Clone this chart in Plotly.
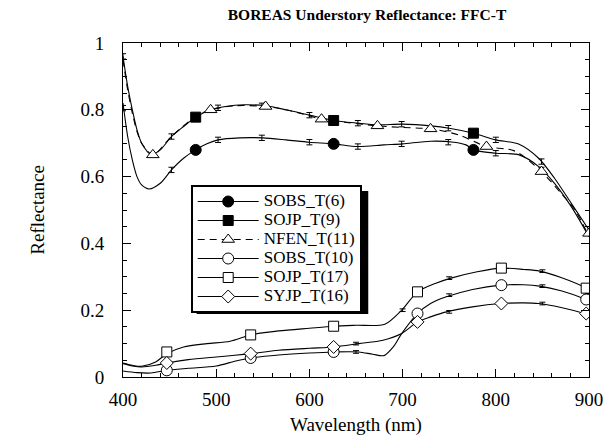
import plotly.graph_objects as go

FONT = "Liberation Serif, Times New Roman, serif"

# ---------------- data ----------------
wl_sobs6 = [400, 405, 410, 415, 420, 428, 440, 452, 465, 478, 490, 502, 525, 550, 575, 600, 626, 652, 680, 700, 730, 755, 768, 776, 800, 825, 846, 863, 881, 900]
r_sobs6 = [0.82, 0.72, 0.65, 0.60, 0.575, 0.563, 0.58, 0.62, 0.655, 0.68, 0.698, 0.71, 0.716, 0.716, 0.71, 0.703, 0.698, 0.69, 0.695, 0.698, 0.706, 0.703, 0.695, 0.68, 0.67, 0.665, 0.63, 0.58, 0.51, 0.42]
mk_wl_sobs6 = [478, 626, 776]
mk_r_sobs6 = [0.68, 0.698, 0.68]
eb_wl_sobs6 = [400, 452, 502, 549, 600, 652, 699, 749, 800, 849]
eb_r_sobs6 = [0.805, 0.62, 0.71, 0.716, 0.703, 0.69, 0.698, 0.703, 0.67, 0.62]

wl_sojp9 = [400, 405, 410, 415, 420, 430, 440, 452, 465, 478, 494, 510, 530, 553, 575, 600, 626, 652, 673, 700, 730, 750, 776, 800, 825, 846, 863, 881, 900]
r_sojp9 = [0.96, 0.87, 0.80, 0.74, 0.70, 0.667, 0.68, 0.72, 0.75, 0.778, 0.80, 0.81, 0.815, 0.812, 0.80, 0.784, 0.768, 0.76, 0.755, 0.757, 0.752, 0.745, 0.73, 0.71, 0.697, 0.655, 0.595, 0.52, 0.44]
mk_wl_sojp9 = [478, 626, 776]
mk_r_sojp9 = [0.778, 0.768, 0.73]
eb_wl_sojp9 = [400, 452, 502, 549, 600, 652, 699, 749, 800, 849]
eb_r_sojp9 = [0.96, 0.72, 0.806, 0.812, 0.784, 0.76, 0.757, 0.745, 0.71, 0.645]

wl_nfen11 = [400, 405, 410, 415, 420, 432, 452, 478, 494, 520, 553, 580, 613, 640, 673, 700, 730, 760, 790, 820, 849, 870, 885, 900]
r_nfen11 = [0.95, 0.86, 0.79, 0.735, 0.70, 0.665, 0.72, 0.78, 0.80, 0.812, 0.81, 0.797, 0.772, 0.762, 0.752, 0.747, 0.743, 0.725, 0.69, 0.677, 0.615, 0.55, 0.50, 0.42]
mk_wl_nfen11 = [432, 494, 553, 613, 673, 730, 790, 849, 900]
mk_r_nfen11 = [0.665, 0.80, 0.81, 0.772, 0.752, 0.743, 0.69, 0.615, 0.43]

wl_sobs10 = [400, 415, 430, 447, 470, 500, 521, 537, 567, 600, 626, 653, 668, 680, 690, 699, 716, 730, 747, 775, 805, 830, 847, 870, 897, 900]
r_sobs10 = [0.018, 0.013, 0.012, 0.02, 0.026, 0.033, 0.048, 0.057, 0.066, 0.072, 0.075, 0.075, 0.068, 0.064, 0.09, 0.13, 0.19, 0.22, 0.24, 0.262, 0.275, 0.276, 0.272, 0.258, 0.232, 0.228]
mk_wl_sobs10 = [447, 537, 626, 716, 806, 897]
mk_r_sobs10 = [0.02, 0.057, 0.075, 0.19, 0.275, 0.232]
eb_wl_sobs10 = [650, 750, 850]
eb_r_sobs10 = [0.075, 0.245, 0.272]

wl_sojp17 = [400, 410, 420, 435, 447, 465, 490, 515, 537, 567, 600, 626, 650, 681, 699, 716, 735, 752, 780, 806, 830, 847, 870, 897, 900]
r_sojp17 = [0.042, 0.035, 0.032, 0.045, 0.07, 0.09, 0.1, 0.107, 0.126, 0.138, 0.146, 0.152, 0.155, 0.158, 0.2, 0.255, 0.28, 0.296, 0.315, 0.326, 0.322, 0.317, 0.298, 0.266, 0.26]
mk_wl_sojp17 = [447, 537, 626, 716, 806, 897]
mk_r_sojp17 = [0.075, 0.126, 0.152, 0.255, 0.326, 0.266]
eb_wl_sojp17 = [700, 750, 850]
eb_r_sojp17 = [0.2, 0.296, 0.317]

wl_syjp16 = [400, 410, 420, 435, 447, 470, 500, 520, 537, 567, 600, 626, 653, 679, 699, 716, 730, 747, 775, 805, 830, 846, 870, 895, 900]
r_syjp16 = [0.04, 0.033, 0.03, 0.035, 0.042, 0.052, 0.06, 0.065, 0.07, 0.08, 0.086, 0.09, 0.1, 0.11, 0.13, 0.165, 0.18, 0.195, 0.21, 0.22, 0.222, 0.22, 0.208, 0.19, 0.185]
mk_wl_syjp16 = [447, 537, 626, 716, 806, 897]
mk_r_syjp16 = [0.042, 0.07, 0.09, 0.165, 0.22, 0.19]
eb_wl_syjp16 = [650, 750, 850]
eb_r_syjp16 = [0.1, 0.195, 0.22]

names = ["SOBS_T(6)", "SOJP_T(9)", "NFEN_T(11)", "SOBS_T(10)", "SOJP_T(17)", "SYJP_T(16)"]

x_ticks = [400, 500, 600, 700, 800, 900]
y_ticks = [0, 0.2, 0.4, 0.6, 0.8, 1]

# ---------------- figure ----------------
fig = go.Figure()

DASH = "7px,5px"
series = [
    (names[0], wl_sobs6, r_sobs6, mk_wl_sobs6, mk_r_sobs6, eb_wl_sobs6, eb_r_sobs6, "circle", "black", "solid", 11, 0.008),
    (names[1], wl_sojp9, r_sojp9, mk_wl_sojp9, mk_r_sojp9, eb_wl_sojp9, eb_r_sojp9, "square", "black", "solid", 10, 0.008),
    (names[2], wl_nfen11, r_nfen11, mk_wl_nfen11, mk_r_nfen11, [], [], "triangle-up", "white", DASH, 11, 0.0),
    (names[3], wl_sobs10, r_sobs10, mk_wl_sobs10, mk_r_sobs10, eb_wl_sobs10, eb_r_sobs10, "circle", "white", "solid", 11, 0.004),
    (names[4], wl_sojp17, r_sojp17, mk_wl_sojp17, mk_r_sojp17, eb_wl_sojp17, eb_r_sojp17, "square", "white", "solid", 10, 0.004),
    (names[5], wl_syjp16, r_syjp16, mk_wl_syjp16, mk_r_syjp16, eb_wl_syjp16, eb_r_syjp16, "diamond", "white", "solid", 10, 0.004),
]

for name, wl, r, mwl, mr, ewl, er, sym, fill, dash, msize, err in series:
    fig.add_trace(go.Scatter(x=wl, y=r, mode="lines",
                             line=dict(color="black", width=1.1, shape="spline", smoothing=0.8, dash=dash),
                             showlegend=False, hoverinfo="skip"))
    if ewl:
        fig.add_trace(go.Scatter(x=ewl, y=er, mode="markers", marker=dict(size=1, opacity=0),
                                 error_y=dict(type="constant", value=err, color="black", thickness=1, width=3),
                                 showlegend=False, hoverinfo="skip"))
    fig.add_trace(go.Scatter(x=mwl, y=mr, mode="markers",
                             marker=dict(symbol=sym, size=msize, color=fill, line=dict(color="black", width=1)),
                             showlegend=False))
    # legend entry
    fig.add_trace(go.Scatter(x=[None], y=[None], mode="lines+markers",
                             name='<span style="font-size:17px">' + name + '</span>',
                             line=dict(color="black", width=1.1, dash=dash),
                             marker=dict(symbol=sym, size=msize, color=fill, line=dict(color="black", width=1))))

L, R, T, B = 123, 17, 43, 59
W, H = 615, 436
pw, ph = W - L - R, H - T - B

def px_x(p):
    return (p - L) / pw

def px_y(p):
    return (H - B - p) / ph

# legend drop shadow
fig.add_shape(type="rect", xref="paper", yref="paper",
              x0=px_x(198), x1=px_x(373), y0=px_y(314), y1=px_y(191),
              fillcolor="black", line=dict(width=0), layer="above")

axis_common = dict(showgrid=False, zeroline=False, showline=True, linecolor="black", linewidth=1,
                   mirror="allticks", ticks="inside", ticklen=8, tickwidth=1, tickcolor="black",
                   tickfont=dict(family=FONT, size=19, color="black"))

fig.update_layout(
    width=W, height=H,
    margin=dict(l=L, r=R, t=T, b=B),
    paper_bgcolor="white", plot_bgcolor="white",
    showlegend=True,
    legend=dict(x=px_x(192), y=px_y(185), xanchor="left", yanchor="top",
                bgcolor="white", bordercolor="black", borderwidth=2,
                font=dict(family=FONT, size=11, color="black"), itemwidth=61,
                tracegroupgap=0),
    xaxis=dict(range=[400, 900], tickvals=x_ticks, ticktext=[str(v) for v in x_ticks],
               minor=dict(dtick=20, ticks="inside", ticklen=4, tickcolor="black"),
               ticklabelstandoff=5, **axis_common),
    yaxis=dict(range=[0, 1], tickvals=y_ticks, ticktext=["0", "0.2", "0.4", "0.6", "0.8", "1"],
               minor=dict(dtick=0.05, ticks="inside", ticklen=4, tickcolor="black"),
               ticklabelstandoff=14, **axis_common),
    title=dict(text="<b>BOREAS Understory Reflectance: FFC-T</b>", x=367 / W, xanchor="center",
               y=1 - 15 / H, yanchor="middle", xref="container", yref="container",
               font=dict(family=FONT, size=15.5, color="black")),
)

fig.add_annotation(text="Reflectance", textangle=-90, xref="paper", yref="paper",
                   x=px_x(35), y=px_y(210), xanchor="center", yanchor="middle", showarrow=False,
                   font=dict(family=FONT, size=19, color="black"))
fig.add_annotation(text="Wavelength (nm)", xref="paper", yref="paper",
                   x=px_x(360), y=px_y(425), xanchor="center", yanchor="middle", showarrow=False,
                   font=dict(family=FONT, size=19, color="black"))

fig.write_html("out.html")
